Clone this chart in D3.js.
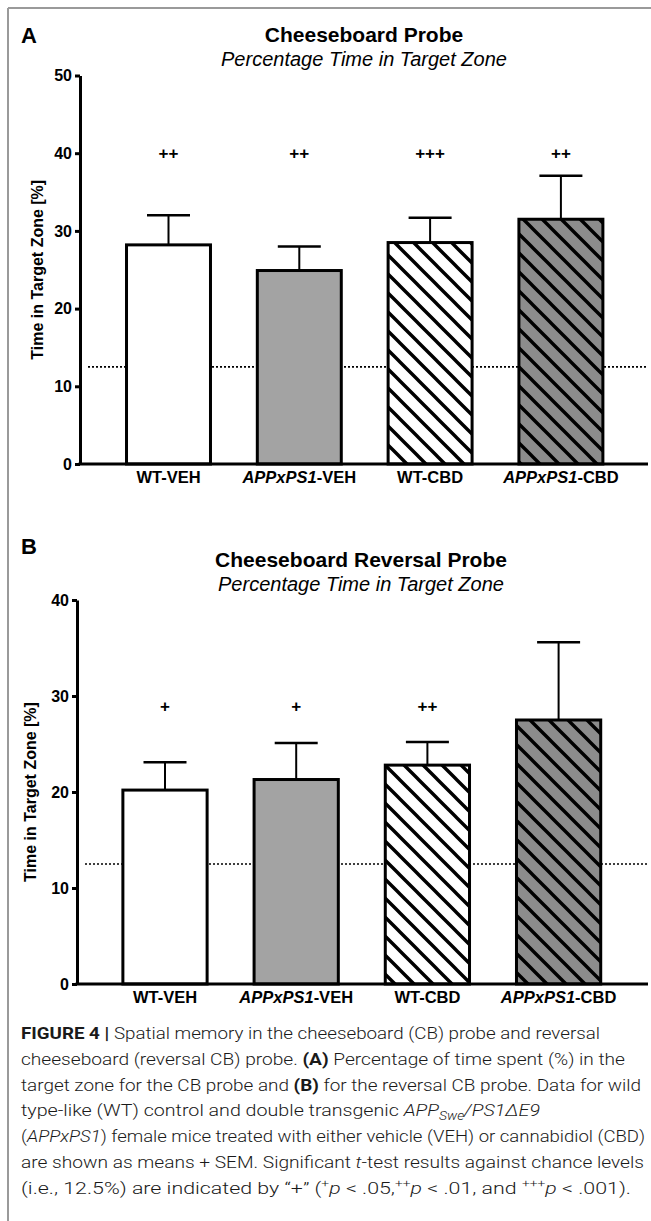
<!DOCTYPE html>
<html>
<head>
<meta charset="utf-8">
<script src="https://cdn.jsdelivr.net/npm/d3@7/dist/d3.min.js"></script>
<style>
  html, body { margin: 0; padding: 0; background: #fff; }
  svg { display: block; }
</style>
</head>
<body>
<script>
// ---------- data ----------
const categories = ["WT-VEH", "APPxPS1-VEH", "WT-CBD", "APPxPS1-CBD"];
const meanA = [28.2, 24.9, 28.5, 31.5];
const semA  = [3.8, 3.1, 3.2, 5.6];
const sigA  = ["++", "++", "+++", "++"];
const meanB = [20.2, 21.3, 22.8, 27.5];
const semB  = [2.9, 3.8, 2.4, 8.1];
const sigB  = ["+", "+", "++", ""];
const chanceLevel = 12.5;
const ticksA = [0, 10, 20, 30, 40, 50];
const ticksB = [0, 10, 20, 30, 40];
const sigLevelA = 40;
const sigLevelB = 29;
const titlesA = ["Cheeseboard Probe", "Percentage Time in Target Zone"];
const titlesB = ["Cheeseboard Reversal Probe", "Percentage Time in Target Zone"];
const yTitle = "Time in Target Zone [%]";

// ---------- styles ----------
const fills = ["#ffffff", "#a3a3a3", "url(#hatchW)", "url(#hatchG)"];
const FONT = "'Liberation Sans', Arial, Helvetica, sans-serif";

const W = 651, H = 1221;
const svg = d3.select("body").append("svg").attr("width", W).attr("height", H);

// patterns
const defs = svg.append("defs");
function hatch(id, bg) {
  const s = 19;
  const p = defs.append("pattern").attr("id", id).attr("patternUnits", "userSpaceOnUse")
    .attr("width", s).attr("height", s);
  p.append("rect").attr("width", s).attr("height", s).attr("fill", bg);
  p.append("path").attr("d", `M0,0L${s},${s}M${-s/2},${s/2}L${s/2},${s*1.5}M${s/2},${-s/2}L${s*1.5},${s/2}`)
    .attr("stroke", "#000").attr("stroke-width", 3.4).attr("fill", "none");
}
hatch("hatchW", "#ffffff");
hatch("hatchG", "#8c8c8c");

// frame
svg.append("line").attr("x1", 8).attr("x2", 8).attr("y1", 8).attr("y2", H).attr("stroke", "#9a9a9a").attr("stroke-width", 2);
svg.append("line").attr("x1", 8).attr("x2", W).attr("y1", 8).attr("y2", 8).attr("stroke", "#9a9a9a").attr("stroke-width", 2);

function panel(cfg) {
  const g = svg.append("g");
  const y = d3.scaleLinear().domain(cfg.domain).range([cfg.y0, cfg.yTop]);
  const x = d3.scaleBand().domain(categories).range(cfg.xRange).paddingInner(0.358).paddingOuter(0.179);

  // panel letter
  g.append("text").attr("x", 21).attr("y", cfg.letterY).text(cfg.letter)
    .attr("font-family", FONT).attr("font-weight", "bold").attr("font-size", 22);
  // titles
  g.append("text").attr("x", cfg.titleX).attr("y", cfg.titleY).attr("text-anchor", "middle")
    .attr("font-family", FONT).attr("font-weight", "bold").attr("font-size", 21).text(cfg.titles[0]);
  g.append("text").attr("x", cfg.titleX).attr("y", cfg.titleY + 24).attr("text-anchor", "middle")
    .attr("font-family", FONT).attr("font-style", "italic").attr("font-size", 20).text(cfg.titles[1]);

  // chance line
  g.append("line").attr("x1", cfg.axisX + 8).attr("x2", 648)
    .attr("y1", y(chanceLevel)).attr("y2", y(chanceLevel))
    .attr("stroke", "#000").attr("stroke-width", 1.6).attr("stroke-dasharray", "2,2");

  // bars
  const data = categories.map((c, i) => ({ c, m: cfg.mean[i], s: cfg.sem[i], sig: cfg.sig[i], f: fills[i] }));
  const bw = x.bandwidth();
  const eb = g.append("g");
  data.forEach(d => {
    const cx = x(d.c) + bw / 2;
    eb.append("line").attr("x1", cx).attr("x2", cx).attr("y1", y(d.m)).attr("y2", y(d.m + d.s))
      .attr("stroke", "#000").attr("stroke-width", 2);
    eb.append("line").attr("x1", cx - 21.5).attr("x2", cx + 21.5).attr("y1", y(d.m + d.s)).attr("y2", y(d.m + d.s))
      .attr("stroke", "#000").attr("stroke-width", 2.5);
  });
  g.append("g").selectAll("rect").data(data).join("rect")
    .attr("x", d => x(d.c)).attr("width", bw)
    .attr("y", d => y(d.m)).attr("height", d => y(0) - y(d.m))
    .attr("fill", d => d.f).attr("stroke", "#000").attr("stroke-width", 3);

  // significance
  g.append("g").selectAll("text").data(data).join("text")
    .attr("x", d => x(d.c) + bw / 2).attr("y", y(cfg.sigLevel) + 6)
    .attr("text-anchor", "middle").attr("font-family", FONT).attr("font-weight", "bold")
    .attr("font-size", 17).text(d => d.sig);

  // y axis
  const ya = g.append("g").attr("transform", `translate(${cfg.axisX},0)`)
    .call(d3.axisLeft(y).tickValues(cfg.ticks).tickSize(5).tickSizeOuter(0).tickPadding(3));
  ya.select(".domain").attr("stroke", "#000").attr("stroke-width", 3);
  ya.selectAll(".tick line").attr("stroke", "#000").attr("stroke-width", 3);
  ya.selectAll(".tick text").attr("font-family", FONT).attr("font-weight", "bold").attr("font-size", 16).attr("fill", "#000");

  // x axis baseline
  g.append("line").attr("x1", cfg.axisX - 1.5).attr("x2", 648).attr("y1", y(0)).attr("y2", y(0))
    .attr("stroke", "#000").attr("stroke-width", 3);

  // x labels
  const xl = g.append("g").selectAll("text").data(categories).join("text")
    .attr("x", d => x(d) + bw / 2).attr("y", y(0) + 19).attr("text-anchor", "middle")
    .attr("font-family", FONT).attr("font-weight", "bold").attr("font-size", 16.5);
  xl.each(function (d) {
    const t = d3.select(this);
    if (d.startsWith("APPxPS1")) {
      t.append("tspan").attr("font-style", "italic").text("APPxPS1");
      t.append("tspan").text(d.slice(7));
    } else t.text(d);
  });

  // y title
  g.append("text").attr("transform", `translate(${cfg.yTitleX},${(y(0) + y(cfg.domain[1])) / 2}) rotate(-90)`)
    .attr("text-anchor", "middle").attr("font-family", FONT).attr("font-weight", "bold")
    .attr("font-size", 16).text(yTitle);
}

panel({
  letter: "A", letterY: 43, titles: titlesA, titleX: 364, titleY: 42,
  domain: [0, 50], y0: 464, yTop: 75.5, ticks: ticksA, axisX: 80,
  xRange: [103.1, 626.3], mean: meanA, sem: semA, sig: sigA, sigLevel: sigLevelA, yTitleX: 43
});
panel({
  letter: "B", letterY: 554, titles: titlesB, titleX: 361, titleY: 567,
  domain: [0, 40], y0: 984, yTop: 600, ticks: ticksB, axisX: 77,
  xRange: [99.4, 624.2], mean: meanB, sem: semB, sig: sigB, sigLevel: sigLevelB, yTitleX: 36
});

// ---------- caption ----------
const CAP = "Roboto, 'Liberation Sans', Arial, sans-serif";
const captionLines = [
  [["FIGURE 4 | ", "b"], ["Spatial memory in the cheeseboard (CB) probe and reversal", ""]],
  [["cheeseboard (reversal CB) probe. ", ""], ["(A)", "b"], [" Percentage of time spent (%) in the", ""]],
  [["target zone for the CB probe and ", ""], ["(B)", "b"], [" for the reversal CB probe. Data for wild", ""]],
  [["type-like (WT) control and double transgenic ", ""], ["APP", "i"], ["Swe", "isub"], ["/PS1ΔE9", "i"]],
  [["(", ""], ["APPxPS1", "i"], [") female mice treated with either vehicle (VEH) or cannabidiol (CBD)", ""]],
  [["are shown as means + SEM. Significant ", ""], ["t", "i"], ["-test results against chance levels", ""]],
  [["(i.e., 12.5%) are indicated by “+” (", ""], ["+", "sup"], ["p", "i"], [" < .05,", ""], ["++", "sup"], ["p", "i"], [" < .01, and ", ""], ["+++", "sup"], ["p", "i"], [" < .001).", ""]]
];
const captionWidths = [579, 604, 620, 519, 624, 623, 610];
const cap = svg.append("g");
captionLines.forEach((parts, i) => {
  const t = cap.append("text").attr("x", 21).attr("y", 1039 + i * 25.8)
    .attr("font-family", CAP).attr("font-weight", 300).attr("font-size", 17).attr("fill", "#1a1a1a")
    .attr("textLength", captionWidths[i]).attr("lengthAdjust", "spacingAndGlyphs");
  parts.forEach(([s, st], k) => {
    const ts = t.append("tspan").text(s);
    if (st === "b") ts.attr("font-weight", "bold");
    if (st === "i") ts.attr("font-style", "italic");
    if (st === "isub") ts.attr("font-style", "italic").attr("font-size", 12).attr("dy", 4);
    if (st === "sup") ts.attr("font-size", 11).attr("dy", -7);
    if (k > 0) {
      const pst = parts[k - 1][1];
      if (pst === "isub" && st !== "isub") ts.attr("dy", -4);
      if (pst === "sup" && st !== "sup") ts.attr("dy", 7);
    }
  });
});
</script>
</body>
</html>
